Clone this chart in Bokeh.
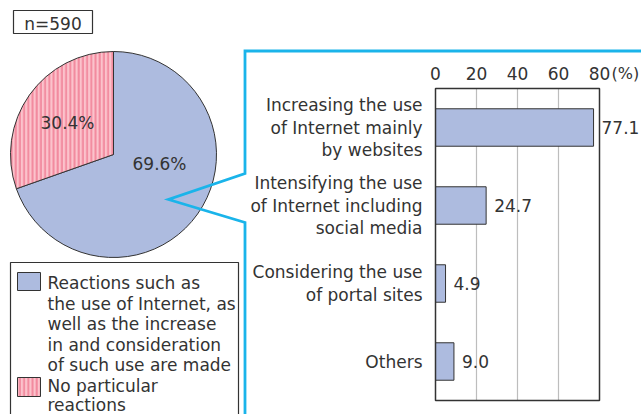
import math
from bokeh.plotting import figure
from bokeh.models import Range1d
from bokeh.core.properties import value
from bokeh.embed import file_html
from bokeh.resources import INLINE

# ---- data ----
pie_labels = ["Reactions such as\nthe use of Internet, as\nwell as the increase\nin and consideration\nof such use are made",
              "No particular\nreactions"]
pie_values = [69.6, 30.4]
sample_note = "n=590"

categories = ["Increasing the use\nof Internet mainly\nby websites",
              "Intensifying the use\nof Internet including\nsocial media",
              "Considering the use\nof portal sites",
              "Others"]
bar_values = [77.1, 24.7, 4.9, 9.0]
ticks = [0, 20, 40, 60, 80]
unit_label = "(%)"

# ---- layout / style ----
W, H = 641, 414
FONT = "DejaVu Sans"
TXT = "#333333"
BLUE = "#adbbdf"
PINK = "#fbc3cc"
PINK_H = "#f28a9e"
CYAN = "#1ab4ea"
FS = "17px"

def Y(py):
    return H - py

p = figure(width=W, height=H, output_backend="svg", toolbar_location=None,
           x_range=Range1d(0, W), y_range=Range1d(0, H),
           x_axis_type=None, y_axis_type=None, min_border=0)
p.outline_line_color = None
p.grid.visible = False
p.background_fill_color = "white"
p.border_fill_color = "white"

# bar chart ranges: frame of bars spans px x 435..599 (0..80), y 88..400 (4 rows)
bx0, bx1 = 435.0, 599.0
xmax = 80.0
sx = (bx1 - bx0) / xmax
p.extra_x_ranges = {"bx": Range1d(-bx0 / sx, (W - bx0) / sx)}
row_top, row_h = 88.0, 78.0
p.extra_y_ranges = {"by": Range1d((H - row_top) / row_h - 0.5, -row_top / row_h - 0.5)}

# ---- n box ----
p.quad(left=13, right=92, top=Y(10), bottom=Y(33), fill_color="white",
       line_color="#333333", line_width=1.2)
p.text(x=[52.5], y=[Y(23)], text=[sample_note], text_align="center", text_baseline="middle",
       text_font=value(FONT), text_font_size=FS, text_color=TXT)

# ---- pie ----
cx, cy, r = 113.0, 154.0, 103.0
a0 = math.pi / 2
pink_end = a0 + 2 * math.pi * pie_values[1] / 100.0
p.wedge(x=[cx], y=[Y(cy)], radius=r, radius_units="screen",
        start_angle=pink_end, end_angle=a0 + 2 * math.pi, direction="anticlock",
        fill_color=BLUE, line_color="#333333", line_width=1)
p.wedge(x=[cx], y=[Y(cy)], radius=r, radius_units="screen",
        start_angle=a0, end_angle=pink_end, direction="anticlock",
        fill_color=PINK, hatch_pattern="|", hatch_color=PINK_H, hatch_scale=4.2,
        hatch_weight=2, line_color="#333333", line_width=1)
p.text(x=[159, 67], y=[Y(163.5), Y(122.5)], text=[f"{v:.1f}%" for v in pie_values],
       text_align="center", text_baseline="middle",
       text_font=value(FONT), text_font_size=FS, text_color=TXT)

# ---- callout line ----
p.line(x=[W + 5, 244.5, 244.5, 168, 244.5, 244.5],
       y=[Y(50.5), Y(50.5), Y(173), Y(199), Y(222), Y(H + 5)],
       line_color=CYAN, line_width=2.8, line_join="miter")

# ---- legend ----
p.quad(left=10, right=238, top=Y(262), bottom=Y(H + 5), fill_color="white",
       line_color="#333333", line_width=1.2)
p.quad(left=17, right=40, top=Y(272), bottom=Y(290), fill_color=BLUE,
       line_color="#333333", line_width=1)
p.quad(left=17, right=40, top=Y(377), bottom=Y(396), fill_color=PINK,
       hatch_pattern="|", hatch_color=PINK_H, hatch_scale=4.2, hatch_weight=2,
       line_color="#333333", line_width=1)
leg_lh = 20.6
start_ys = [282.5, 385.0]
lx, ly, lt = [], [], []
for lab, y0 in zip(pie_labels, start_ys):
    for k, line in enumerate(lab.split("\n")):
        lx.append(47)
        ly.append(Y(y0 + k * (leg_lh if y0 < 380 else 19.8)))
        lt.append(line)
p.text(x=lx, y=ly, text=lt, text_align="left", text_baseline="middle",
       text_font=value(FONT), text_font_size=FS, text_color=TXT)

# ---- bar chart ----
idx = list(range(len(categories)))
for g in ticks[1:-1]:
    p.segment(x0=[g], x1=[g], y0=[-0.5], y1=[len(categories) - 0.5],
              x_range_name="bx", y_range_name="by", line_color="#bdbdbd", line_width=1.2)
p.hbar(y=idx, left=0, right=bar_values, height=0.48, x_range_name="bx", y_range_name="by",
       fill_color=BLUE, line_color="#333333", line_width=1)
p.quad(left=[0], right=[xmax], top=[-0.5], bottom=[len(categories) - 0.5],
       x_range_name="bx", y_range_name="by", fill_color=None,
       line_color="#333333", line_width=1.5)

# tick labels above
p.text(x=ticks, y=[Y(73)] * len(ticks), text=[str(t) for t in ticks], x_range_name="bx",
       text_align="center", text_baseline="middle",
       text_font=value(FONT), text_font_size=FS, text_color=TXT)
p.text(x=[ticks[-1]], y=[Y(73)], text=[unit_label], x_range_name="bx", x_offset=12,
       text_align="left", text_baseline="middle",
       text_font=value(FONT), text_font_size="16px", text_color=TXT)

# value labels
p.text(x=bar_values, y=idx, text=[f"{v:.1f}" for v in bar_values], x_offset=8,
       x_range_name="bx", y_range_name="by", text_align="left", text_baseline="middle",
       text_font=value(FONT), text_font_size=FS, text_color=TXT)

# category labels
cat_lh = 22.5 / row_h
cx_, cy_, ct_ = [], [], []
for i, lab in enumerate(categories):
    lines = lab.split("\n")
    n = len(lines)
    for k, line in enumerate(lines):
        cx_.append(0)
        cy_.append(i + (k - (n - 1) / 2) * cat_lh)
        ct_.append(line)
p.text(x=cx_, y=cy_, text=ct_, x_offset=-13, x_range_name="bx", y_range_name="by",
       text_align="right", text_baseline="middle",
       text_font=value(FONT), text_font_size=FS, text_color=TXT)

open("out.html", "w").write(file_html(p, INLINE))
